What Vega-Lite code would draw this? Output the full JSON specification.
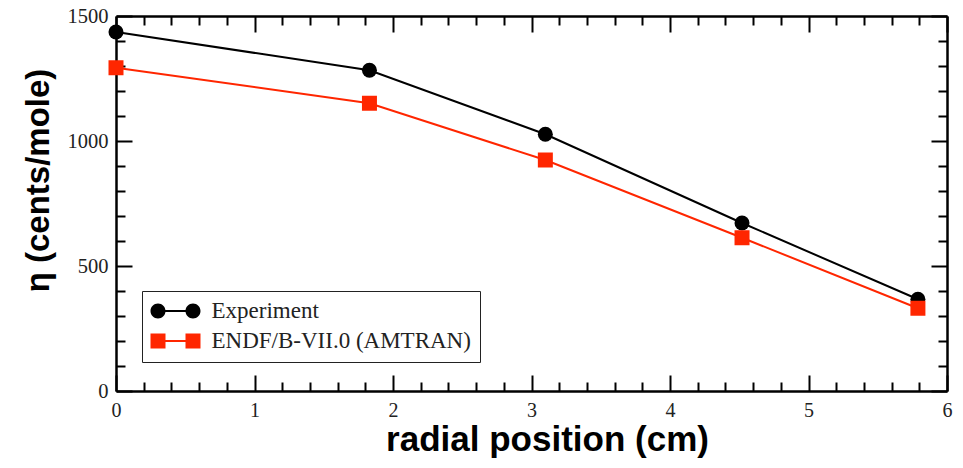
{
  "$schema": "https://vega.github.io/schema/vega-lite/v6.json",
  "width": 831,
  "height": 375,
  "autosize": {"type": "none"},
  "padding": {"left": 116, "top": 16, "right": 16, "bottom": 77},
  "background": "white",
  "config": {"view": {"stroke": null}, "axis": {"grid": false}},
  "data": {
    "values": [
      {"series": "Experiment", "r": 0.0, "eta": 1436},
      {"series": "Experiment", "r": 1.83, "eta": 1283},
      {"series": "Experiment", "r": 3.10, "eta": 1027},
      {"series": "Experiment", "r": 4.52, "eta": 672},
      {"series": "Experiment", "r": 5.79, "eta": 367},
      {"series": "ENDF/B-VII.0 (AMTRAN)", "r": 0.0, "eta": 1293},
      {"series": "ENDF/B-VII.0 (AMTRAN)", "r": 1.83, "eta": 1151},
      {"series": "ENDF/B-VII.0 (AMTRAN)", "r": 3.10, "eta": 924},
      {"series": "ENDF/B-VII.0 (AMTRAN)", "r": 4.52, "eta": 613},
      {"series": "ENDF/B-VII.0 (AMTRAN)", "r": 5.79, "eta": 331}
    ]
  },
  "layer": [
    {
      "mark": {"type": "line", "strokeWidth": 2},
      "encoding": {
        "x": {
          "field": "r", "type": "quantitative",
          "scale": {"domain": [0, 6], "nice": false, "zero": false},
          "axis": {
            "orient": "bottom", "values": [0, 1, 2, 3, 4, 5, 6], "format": "d",
            "ticks": false, "domain": true, "domainColor": "black", "domainWidth": 2.5,
            "labelFont": "Liberation Serif", "labelFontSize": 20, "labelColor": "#222",
            "labelPadding": 9, "labelFlush": false, "labelOverlap": false, "labelBound": false,
            "title": "radial position (cm)", "titleFont": "Liberation Sans", "titleFontWeight": "bold",
            "titleFontSize": 35, "titleColor": "black", "titleX": 431, "titleY": 59,
            "titleBaseline": "alphabetic", "titleAlign": "center"
          }
        },
        "y": {
          "field": "eta", "type": "quantitative",
          "scale": {"domain": [0, 1500], "nice": false, "zero": false},
          "axis": {
            "orient": "left", "values": [0, 500, 1000, 1500], "format": "d",
            "ticks": false, "domain": true, "domainColor": "black", "domainWidth": 2.5,
            "labelFont": "Liberation Serif", "labelFontSize": 20.5, "labelColor": "#222",
            "labelPadding": 8, "labelFlush": false, "labelOverlap": false, "labelBound": false,
            "title": "η (cents/mole)", "titleFont": "Liberation Sans", "titleFontWeight": "bold",
            "titleFontSize": 33, "titleColor": "black", "titleX": -68, "titleY": 164,
            "titleAngle": 270, "titleBaseline": "alphabetic", "titleAlign": "center"
          }
        },
        "color": {
          "field": "series", "type": "nominal",
          "scale": {"domain": ["Experiment", "ENDF/B-VII.0 (AMTRAN)"], "range": ["#000000", "#ff2600"]},
          "legend": null
        }
      }
    },
    {
      "mark": {"type": "point", "filled": true, "size": 225, "opacity": 1},
      "encoding": {
        "x": {
          "field": "r", "type": "quantitative",
          "axis": {"orient": "bottom", "values": [0, 1, 2, 3, 4, 5, 6], "labels": false, "domain": false,
                   "tickSize": -16, "tickWidth": 2, "tickColor": "black", "title": null}
        },
        "y": {
          "field": "eta", "type": "quantitative",
          "axis": {"orient": "left", "values": [0, 500, 1000, 1500], "labels": false, "domain": false,
                   "tickSize": -16, "tickWidth": 2, "tickColor": "black", "title": null}
        },
        "color": {"field": "series", "type": "nominal", "legend": null},
        "shape": {
          "field": "series", "type": "nominal",
          "scale": {"domain": ["Experiment", "ENDF/B-VII.0 (AMTRAN)"], "range": ["circle", "square"]},
          "legend": null
        }
      }
    },
    {
      "mark": {"type": "point", "opacity": 0},
      "encoding": {
        "x": {
          "field": "r", "type": "quantitative",
          "axis": {"orient": "bottom", "values": [0.2, 0.4, 0.6, 0.8, 1.2, 1.4, 1.6, 1.8, 2.2, 2.4, 2.6, 2.8, 3.2, 3.4, 3.6, 3.8, 4.2, 4.4, 4.6, 4.8, 5.2, 5.4, 5.6, 5.8],
                   "labels": false, "domain": false, "tickSize": -9, "tickWidth": 2, "tickColor": "black", "title": null}
        },
        "y": {
          "field": "eta", "type": "quantitative",
          "axis": {"orient": "left", "values": [100, 200, 300, 400, 600, 700, 800, 900, 1100, 1200, 1300, 1400],
                   "labels": false, "domain": false, "tickSize": -9, "tickWidth": 2, "tickColor": "black", "title": null}
        }
      }
    },
    {
      "mark": {"type": "point", "opacity": 0},
      "encoding": {
        "x": {
          "field": "r", "type": "quantitative",
          "axis": {"orient": "top", "values": [0, 1, 2, 3, 4, 5, 6], "labels": false, "domain": true,
                   "domainColor": "black", "domainWidth": 2.5,
                   "tickSize": -16, "tickWidth": 2, "tickColor": "black", "title": null}
        },
        "y": {
          "field": "eta", "type": "quantitative",
          "axis": {"orient": "right", "values": [0, 500, 1000, 1500], "labels": false, "domain": true,
                   "domainColor": "black", "domainWidth": 2.5,
                   "tickSize": -16, "tickWidth": 2, "tickColor": "black", "title": null}
        }
      }
    },
    {
      "mark": {"type": "point", "opacity": 0},
      "encoding": {
        "x": {
          "field": "r", "type": "quantitative",
          "axis": {"orient": "top", "values": [0.2, 0.4, 0.6, 0.8, 1.2, 1.4, 1.6, 1.8, 2.2, 2.4, 2.6, 2.8, 3.2, 3.4, 3.6, 3.8, 4.2, 4.4, 4.6, 4.8, 5.2, 5.4, 5.6, 5.8],
                   "labels": false, "domain": false, "tickSize": -9, "tickWidth": 2, "tickColor": "black", "title": null}
        },
        "y": {
          "field": "eta", "type": "quantitative",
          "axis": {"orient": "right", "values": [100, 200, 300, 400, 600, 700, 800, 900, 1100, 1200, 1300, 1400],
                   "labels": false, "domain": false, "tickSize": -9, "tickWidth": 2, "tickColor": "black", "title": null}
        }
      }
    },
    {
      "description": "Legend carrier: invisible points whose fill and shape scales give the line-with-markers legend glyphs",
      "mark": {"type": "point", "filled": true, "opacity": 0, "size": 400},
      "encoding": {
        "x": {"field": "r", "type": "quantitative", "axis": null},
        "y": {"field": "eta", "type": "quantitative", "axis": null},
        "fill": {
          "field": "series", "type": "nominal",
          "scale": {"domain": ["Experiment", "ENDF/B-VII.0 (AMTRAN)"], "range": ["#000000", "#ff2600"]},
          "legend": {
            "orient": "none", "legendX": 26, "legendY": 275, "title": null, "direction": "vertical",
            "padding": 8.5, "strokeColor": "#222", "fillColor": "white",
            "labelFont": "Liberation Serif", "labelFontSize": 23, "labelColor": "#222",
            "labelOffset": 38, "rowPadding": 6, "symbolSize": 400, "labelLimit": 0,
            "symbolOpacity": 1, "symbolStrokeWidth": 0
          }
        },
        "shape": {
          "field": "series", "type": "nominal",
          "scale": {
            "domain": ["Experiment", "ENDF/B-VII.0 (AMTRAN)"],
            "range": [
              "M-1.15,0A0.75,0.75 0 1,1 0.35,0A0.75,0.75 0 1,1 -1.15,0ZM2.35,0A0.75,0.75 0 1,1 3.85,0A0.75,0.75 0 1,1 2.35,0ZM0.3,-0.1L2.4,-0.1L2.4,0.1L0.3,0.1Z",
              "M-1.15,-0.75L0.35,-0.75L0.35,0.75L-1.15,0.75ZM2.35,-0.75L3.85,-0.75L3.85,0.75L2.35,0.75ZM0.3,-0.1L2.4,-0.1L2.4,0.1L0.3,0.1Z"
            ]
          },
          "legend": {
            "orient": "none", "legendX": 26, "legendY": 275, "title": null, "direction": "vertical",
            "padding": 8.5, "strokeColor": "#222", "fillColor": "white",
            "labelFont": "Liberation Serif", "labelFontSize": 23, "labelColor": "#222",
            "labelOffset": 38, "rowPadding": 6, "symbolSize": 400, "labelLimit": 0,
            "symbolOpacity": 1, "symbolStrokeWidth": 0
          }
        }
      }
    }
  ],
  "resolve": {
    "axis": {"x": "independent", "y": "independent"},
    "scale": {"shape": "independent", "fill": "independent"}
  }
}
